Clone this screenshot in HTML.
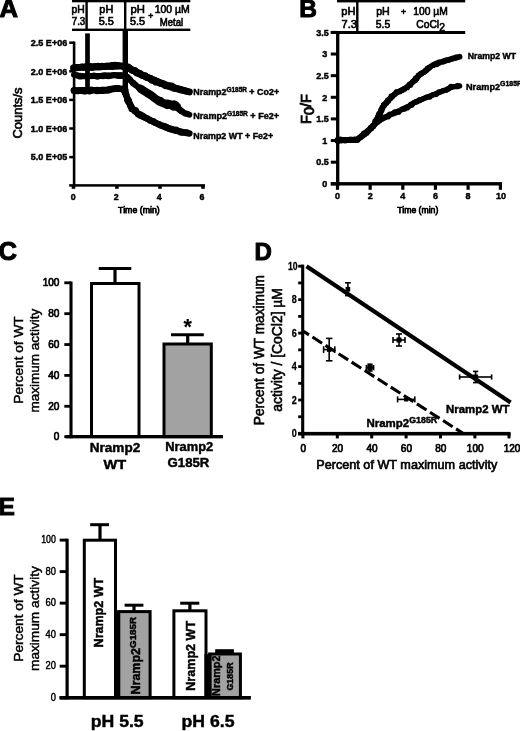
<!DOCTYPE html>
<html lang="en"><head><meta charset="utf-8"><title>Figure</title>
<style>
html,body{margin:0;padding:0;background:#fff;}
body{width:520px;height:731px;overflow:hidden;}
svg{display:block;}
text{font-family:"Liberation Sans",sans-serif;fill:#000;}
</style></head><body>
<svg width="520" height="731" viewBox="0 0 520 731">
<defs><filter id="soft" x="0" y="0" width="520" height="731" filterUnits="userSpaceOnUse"><feGaussianBlur stdDeviation="0.5"/></filter></defs>
<rect width="520" height="731" fill="#fff"/>
<g filter="url(#soft)">
<rect width="520" height="731" fill="#fff"/>

<g id="panelA">
<text x="-0.60" y="17.30" font-size="25.6" text-anchor="start" font-weight="bold" stroke="#000" stroke-width="1.0" >A</text>
<rect x="72.00" y="0.00" width="118.30" height="2.30" fill="#000" />
<rect x="72.00" y="28.60" width="118.30" height="2.40" fill="#000" />
<rect x="85.40" y="0.00" width="2.40" height="30.00" fill="#000" />
<rect x="124.00" y="0.00" width="2.40" height="30.00" fill="#000" />
<text x="78.20" y="13.20" font-size="10.2" text-anchor="middle" textLength="13.20" lengthAdjust="spacingAndGlyphs" stroke="#000" stroke-width="0.6" >pH</text>
<text x="78.50" y="25.10" font-size="10.2" text-anchor="middle" textLength="13.60" lengthAdjust="spacingAndGlyphs" stroke="#000" stroke-width="0.6" >7.3</text>
<text x="106.30" y="13.20" font-size="10.2" text-anchor="middle" textLength="13.90" lengthAdjust="spacingAndGlyphs" stroke="#000" stroke-width="0.6" >pH</text>
<text x="106.30" y="25.10" font-size="10.2" text-anchor="middle" textLength="15.20" lengthAdjust="spacingAndGlyphs" stroke="#000" stroke-width="0.6" >5.5</text>
<text x="137.70" y="13.20" font-size="10.2" text-anchor="middle" textLength="14.40" lengthAdjust="spacingAndGlyphs" stroke="#000" stroke-width="0.6" >pH</text>
<text x="137.60" y="25.10" font-size="10.2" text-anchor="middle" textLength="15.20" lengthAdjust="spacingAndGlyphs" stroke="#000" stroke-width="0.6" >5.5</text>
<text x="150.80" y="19.00" font-size="8.6" text-anchor="middle" stroke="#000" stroke-width="0.6" >+</text>
<text x="172.20" y="13.20" font-size="10.2" text-anchor="middle" textLength="35.00" lengthAdjust="spacingAndGlyphs" stroke="#000" stroke-width="0.6" >100 µM</text>
<text x="171.40" y="25.60" font-size="10.2" text-anchor="middle" textLength="23.40" lengthAdjust="spacingAndGlyphs" stroke="#000" stroke-width="0.6" >Metal</text>
<rect x="72.80" y="41.50" width="2.60" height="145.10" fill="#000" />
<rect x="69.20" y="184.15" width="135.80" height="2.50" fill="#000" />
<rect x="69.20" y="41.45" width="4.80" height="2.50" fill="#000" />
<text x="67.20" y="45.90" font-size="9" text-anchor="end" font-weight="bold" textLength="36.40" lengthAdjust="spacingAndGlyphs" stroke="#000" stroke-width="0.45" >2.5 E+06</text>
<rect x="69.20" y="70.05" width="4.80" height="2.50" fill="#000" />
<text x="67.20" y="74.50" font-size="9" text-anchor="end" font-weight="bold" textLength="36.40" lengthAdjust="spacingAndGlyphs" stroke="#000" stroke-width="0.45" >2.0 E+06</text>
<rect x="69.20" y="98.65" width="4.80" height="2.50" fill="#000" />
<text x="67.20" y="103.10" font-size="9" text-anchor="end" font-weight="bold" textLength="36.40" lengthAdjust="spacingAndGlyphs" stroke="#000" stroke-width="0.45" >1.5 E+06</text>
<rect x="69.20" y="127.25" width="4.80" height="2.50" fill="#000" />
<text x="67.20" y="131.70" font-size="9" text-anchor="end" font-weight="bold" textLength="36.40" lengthAdjust="spacingAndGlyphs" stroke="#000" stroke-width="0.45" >1.0 E+06</text>
<rect x="69.20" y="155.85" width="4.80" height="2.50" fill="#000" />
<text x="67.20" y="160.30" font-size="9" text-anchor="end" font-weight="bold" textLength="36.40" lengthAdjust="spacingAndGlyphs" stroke="#000" stroke-width="0.45" >5.0 E+05</text>
<rect x="71.70" y="185.00" width="3.60" height="3.80" fill="#000" />
<text x="73.10" y="199.60" font-size="8.8" text-anchor="middle" font-weight="bold" stroke="#000" stroke-width="0.45" >0</text>
<rect x="115.10" y="185.00" width="3.60" height="3.80" fill="#000" />
<text x="116.30" y="199.60" font-size="8.8" text-anchor="middle" font-weight="bold" stroke="#000" stroke-width="0.45" >2</text>
<rect x="158.20" y="185.00" width="3.60" height="3.80" fill="#000" />
<text x="159.20" y="199.60" font-size="8.8" text-anchor="middle" font-weight="bold" stroke="#000" stroke-width="0.45" >4</text>
<rect x="201.20" y="185.00" width="3.60" height="3.80" fill="#000" />
<text x="202.00" y="199.60" font-size="8.8" text-anchor="middle" font-weight="bold" stroke="#000" stroke-width="0.45" >6</text>
<text x="138.90" y="212.60" font-size="8.8" text-anchor="middle" textLength="41.60" lengthAdjust="spacingAndGlyphs" stroke="#000" stroke-width="0.75" >Time (min)</text>
<text x="21.80" y="113.00" font-size="13" text-anchor="middle" textLength="51.00" lengthAdjust="spacingAndGlyphs" stroke="#000" stroke-width="0.6" transform="rotate(-90 21.80 113.00)" >Counts/s</text>
<rect x="85.15" y="33.40" width="4.70" height="57.60" fill="#000" />
<rect x="122.60" y="30.00" width="5.40" height="62.00" fill="#000" />
<polyline points="74,68.2 77,67.6 82,67.3 87,66.9 93,67 100,66.7 107,66.3 115,65.8 120,65.9 124,66.2 127.7,67.4 132,69.8 137,72.4 143,75.4 150,78.7 158.5,82.3 166,85.2 173.8,87.7 181,89.9 189.4,91.9" fill="none" stroke="#000" stroke-width="6.9" stroke-linecap="round" stroke-linejoin="round"/>
<g><circle cx="73.8" cy="67.9" r="3.7"/><circle cx="76.6" cy="67.6" r="3.6"/><circle cx="79.1" cy="67.5" r="3.4"/><circle cx="81.9" cy="66.9" r="3.4"/><circle cx="84.4" cy="67.4" r="3.4"/><circle cx="86.8" cy="67.0" r="3.9"/><circle cx="90.1" cy="66.9" r="3.9"/><circle cx="92.6" cy="67.3" r="3.5"/><circle cx="95.0" cy="66.6" r="3.5"/><circle cx="98.0" cy="66.5" r="3.7"/><circle cx="100.1" cy="66.6" r="3.7"/><circle cx="101.9" cy="66.2" r="3.5"/><circle cx="104.8" cy="66.4" r="3.5"/><circle cx="107.1" cy="66.3" r="3.5"/><circle cx="109.9" cy="66.3" r="3.5"/><circle cx="112.4" cy="66.0" r="3.9"/><circle cx="115.2" cy="65.6" r="3.9"/><circle cx="117.2" cy="65.8" r="3.8"/><circle cx="119.7" cy="65.9" r="3.4"/><circle cx="124.2" cy="66.4" r="3.7"/><circle cx="128.0" cy="67.2" r="3.8"/><circle cx="129.9" cy="68.7" r="3.6"/><circle cx="132.3" cy="70.2" r="3.6"/><circle cx="134.6" cy="70.7" r="3.8"/><circle cx="137.1" cy="72.8" r="3.8"/><circle cx="139.8" cy="73.8" r="3.8"/><circle cx="142.6" cy="75.4" r="3.5"/><circle cx="145.0" cy="76.1" r="3.8"/><circle cx="147.3" cy="77.4" r="3.6"/><circle cx="150.3" cy="78.3" r="3.6"/><circle cx="152.2" cy="79.9" r="3.8"/><circle cx="154.6" cy="80.3" r="3.6"/><circle cx="156.2" cy="81.7" r="3.9"/><circle cx="158.2" cy="82.0" r="3.5"/><circle cx="160.8" cy="83.3" r="3.7"/><circle cx="163.3" cy="83.8" r="3.6"/><circle cx="165.9" cy="85.3" r="3.9"/><circle cx="168.8" cy="86.0" r="3.7"/><circle cx="171.4" cy="86.5" r="3.9"/><circle cx="174.1" cy="88.0" r="3.8"/><circle cx="176.1" cy="88.3" r="3.4"/><circle cx="178.7" cy="88.8" r="3.4"/><circle cx="180.7" cy="89.6" r="3.6"/><circle cx="183.4" cy="90.1" r="3.4"/><circle cx="186.2" cy="91.1" r="3.4"/></g>
<polyline points="74,74.6 78,75.6 83,76.2 87,76.3 94,76.1 100,76 108,75.6 115,75.2 120,75.3 124,75.8 127.7,77.4 131,80.8 135.4,85 139,87.8 143,90.3 147,92.8 150.8,95 154.5,98 158.5,100.8 162,102.6 166,103.6 169,103.2 171.5,104.6 173.8,105.6 176,104.9 178,107.8 181.5,111.3 185,113.2 189.4,114.8" fill="none" stroke="#000" stroke-width="5.9" stroke-linecap="round" stroke-linejoin="round"/>
<g><circle cx="74.3" cy="74.7" r="2.9"/><circle cx="77.8" cy="75.5" r="3.1"/><circle cx="80.2" cy="76.2" r="3.4"/><circle cx="83.0" cy="76.2" r="2.9"/><circle cx="86.6" cy="76.2" r="3.0"/><circle cx="89.6" cy="75.9" r="2.9"/><circle cx="92.1" cy="76.2" r="2.9"/><circle cx="94.0" cy="75.7" r="3.2"/><circle cx="97.4" cy="76.4" r="3.3"/><circle cx="99.8" cy="75.9" r="3.0"/><circle cx="102.9" cy="75.9" r="3.3"/><circle cx="105.2" cy="75.5" r="3.3"/><circle cx="108.4" cy="75.9" r="3.3"/><circle cx="110.6" cy="75.7" r="3.0"/><circle cx="112.7" cy="75.2" r="2.9"/><circle cx="114.6" cy="75.0" r="3.0"/><circle cx="117.7" cy="75.7" r="3.1"/><circle cx="120.4" cy="75.7" r="3.4"/><circle cx="123.9" cy="75.5" r="3.0"/><circle cx="127.4" cy="77.1" r="3.2"/><circle cx="129.7" cy="79.4" r="3.1"/><circle cx="131.1" cy="81.1" r="2.9"/><circle cx="133.3" cy="83.3" r="3.3"/><circle cx="135.6" cy="85.0" r="3.0"/><circle cx="139.3" cy="87.6" r="3.3"/><circle cx="141.4" cy="89.0" r="3.1"/><circle cx="143.4" cy="90.5" r="3.0"/><circle cx="144.7" cy="91.2" r="3.4"/><circle cx="147.3" cy="92.5" r="3.3"/><circle cx="151.2" cy="95.1" r="3.1"/><circle cx="152.7" cy="96.2" r="2.9"/><circle cx="154.9" cy="98.1" r="3.2"/><circle cx="156.9" cy="99.3" r="3.4"/><circle cx="158.8" cy="100.5" r="3.0"/><circle cx="161.8" cy="102.4" r="3.2"/><circle cx="165.8" cy="103.5" r="2.9"/><circle cx="169.4" cy="103.1" r="3.1"/><circle cx="171.6" cy="105.0" r="3.1"/><circle cx="174.2" cy="105.6" r="3.2"/><circle cx="176.0" cy="104.5" r="3.1"/><circle cx="177.7" cy="107.4" r="3.3"/><circle cx="179.5" cy="109.5" r="3.3"/><circle cx="181.6" cy="111.1" r="3.2"/><circle cx="185.0" cy="113.5" r="2.9"/><circle cx="187.3" cy="113.8" r="3.0"/></g>
<polyline points="74,90.4 80,90.6 87,90.4 94,90.3 100,90.2 108,89.7 113,89 118,88.6 122,89 124.6,90.5 126,95 127.7,99.2 129.8,104 132.3,108.3 135,111.2 138.5,113.8 143,116.6 147.7,118.9 153,121.6 158.5,124.2 166,127.3 173.8,130 181,131.9 189.4,133.5" fill="none" stroke="#000" stroke-width="6.5" stroke-linecap="round" stroke-linejoin="round"/>
<g><circle cx="74.2" cy="90.4" r="3.5"/><circle cx="77.2" cy="90.9" r="3.4"/><circle cx="80.1" cy="90.6" r="3.5"/><circle cx="82.5" cy="90.5" r="3.5"/><circle cx="84.6" cy="90.9" r="3.6"/><circle cx="87.3" cy="90.8" r="3.3"/><circle cx="89.4" cy="90.8" r="3.7"/><circle cx="91.3" cy="90.0" r="3.4"/><circle cx="93.6" cy="90.1" r="3.2"/><circle cx="97.2" cy="90.5" r="3.7"/><circle cx="99.7" cy="90.4" r="3.5"/><circle cx="102.3" cy="90.4" r="3.7"/><circle cx="105.1" cy="90.3" r="3.4"/><circle cx="108.0" cy="90.1" r="3.6"/><circle cx="110.2" cy="89.3" r="3.5"/><circle cx="112.9" cy="88.7" r="3.3"/><circle cx="115.7" cy="88.4" r="3.5"/><circle cx="117.9" cy="88.2" r="3.3"/><circle cx="122.1" cy="89.0" r="3.2"/><circle cx="125.0" cy="90.8" r="3.7"/><circle cx="124.9" cy="92.5" r="3.2"/><circle cx="126.3" cy="94.8" r="3.2"/><circle cx="127.6" cy="99.6" r="3.6"/><circle cx="128.5" cy="101.3" r="3.7"/><circle cx="129.9" cy="104.2" r="3.2"/><circle cx="130.7" cy="106.3" r="3.4"/><circle cx="131.9" cy="108.7" r="3.5"/><circle cx="135.3" cy="110.8" r="3.7"/><circle cx="138.1" cy="114.1" r="3.4"/><circle cx="140.6" cy="115.2" r="3.7"/><circle cx="142.8" cy="116.3" r="3.5"/><circle cx="145.1" cy="117.4" r="3.2"/><circle cx="147.3" cy="118.6" r="3.3"/><circle cx="150.2" cy="120.5" r="3.3"/><circle cx="153.0" cy="121.3" r="3.4"/><circle cx="155.3" cy="122.7" r="3.2"/><circle cx="158.7" cy="124.2" r="3.3"/><circle cx="161.0" cy="125.6" r="3.2"/><circle cx="163.8" cy="126.2" r="3.4"/><circle cx="166.3" cy="127.2" r="3.5"/><circle cx="168.8" cy="128.6" r="3.4"/><circle cx="171.5" cy="129.3" r="3.5"/><circle cx="173.7" cy="129.9" r="3.2"/><circle cx="175.9" cy="130.2" r="3.6"/><circle cx="178.4" cy="131.0" r="3.2"/><circle cx="181.3" cy="132.2" r="3.6"/><circle cx="183.6" cy="132.2" r="3.3"/><circle cx="186.6" cy="132.7" r="3.4"/></g>
<polyline points="141,89 147,92.9 150.8,95.1 154.5,98 158.5,100.8 162,102.7 166,104.2 170,104.6 174,105.4 176.5,106.4" fill="none" stroke="#000" stroke-width="8.2" stroke-linecap="round" stroke-linejoin="round"/>
<circle cx="167.5" cy="104.3" r="4.9"/><circle cx="174" cy="105.5" r="5.3"/><circle cx="160" cy="101.2" r="4.5"/>
<text x="193.3" y="95.3" font-size="9" font-weight="bold" stroke="#000" stroke-width="0.45" text-anchor="start" textLength="85.8" lengthAdjust="spacingAndGlyphs">Nramp2<tspan font-size="6.5" dy="-3.3">G185R</tspan><tspan dy="3.3"> + Co2+</tspan></text>
<text x="193.3" y="118.9" font-size="9" font-weight="bold" stroke="#000" stroke-width="0.45" text-anchor="start" textLength="85.8" lengthAdjust="spacingAndGlyphs">Nramp2<tspan font-size="6.5" dy="-3.3">G185R</tspan><tspan dy="3.3"> + Fe2+</tspan></text>
<text x="193.30" y="138.50" font-size="9" text-anchor="start" font-weight="bold" textLength="79.80" lengthAdjust="spacingAndGlyphs" stroke="#000" stroke-width="0.45" >Nramp2 WT + Fe2+</text>
</g>
<g id="panelB">
<text x="299.30" y="17.20" font-size="24.5" text-anchor="start" font-weight="bold" stroke="#000" stroke-width="1.0" >B</text>
<rect x="337.00" y="0.00" width="128.20" height="2.40" fill="#000" />
<rect x="330.80" y="31.00" width="134.40" height="3.00" fill="#000" />
<rect x="356.10" y="0.00" width="2.40" height="32.00" fill="#000" />
<text x="348.40" y="15.40" font-size="10.2" text-anchor="middle" textLength="14.20" lengthAdjust="spacingAndGlyphs" stroke="#000" stroke-width="0.6" >pH</text>
<text x="349.20" y="28.00" font-size="10.2" text-anchor="middle" textLength="15.40" lengthAdjust="spacingAndGlyphs" stroke="#000" stroke-width="0.6" >7.3</text>
<text x="383.00" y="15.40" font-size="10.2" text-anchor="middle" textLength="13.60" lengthAdjust="spacingAndGlyphs" stroke="#000" stroke-width="0.6" >pH</text>
<text x="383.00" y="28.00" font-size="10.2" text-anchor="middle" textLength="14.40" lengthAdjust="spacingAndGlyphs" stroke="#000" stroke-width="0.6" >5.5</text>
<text x="403.50" y="15.30" font-size="8.6" text-anchor="middle" stroke="#000" stroke-width="0.6" >+</text>
<text x="430.50" y="15.40" font-size="10.2" text-anchor="middle" textLength="34.40" lengthAdjust="spacingAndGlyphs" stroke="#000" stroke-width="0.6" >100 µM</text>
<text x="430.6" y="28" font-size="10.2" text-anchor="middle" textLength="28.6" lengthAdjust="spacingAndGlyphs" stroke="#000" stroke-width="0.6">CoCl<tspan dy="2.6">2</tspan></text>
<rect x="336.05" y="31.00" width="3.30" height="154.60" fill="#000" />
<rect x="330.80" y="182.10" width="171.20" height="3.40" fill="#000" />
<rect x="330.80" y="30.90" width="6.20" height="3.00" fill="#000" />
<text x="328.70" y="35.65" font-size="9" text-anchor="end" font-weight="bold" stroke="#000" stroke-width="0.45" >3.5</text>
<rect x="330.80" y="52.53" width="6.20" height="3.00" fill="#000" />
<text x="327.20" y="57.28" font-size="9" text-anchor="end" font-weight="bold" stroke="#000" stroke-width="0.45" >3</text>
<rect x="330.80" y="74.16" width="6.20" height="3.00" fill="#000" />
<text x="328.70" y="78.91" font-size="9" text-anchor="end" font-weight="bold" stroke="#000" stroke-width="0.45" >2.5</text>
<rect x="330.80" y="95.79" width="6.20" height="3.00" fill="#000" />
<text x="327.20" y="100.54" font-size="9" text-anchor="end" font-weight="bold" stroke="#000" stroke-width="0.45" >2</text>
<rect x="330.80" y="117.42" width="6.20" height="3.00" fill="#000" />
<text x="328.70" y="122.17" font-size="9" text-anchor="end" font-weight="bold" stroke="#000" stroke-width="0.45" >1.5</text>
<rect x="330.80" y="139.05" width="6.20" height="3.00" fill="#000" />
<text x="327.20" y="143.80" font-size="9" text-anchor="end" font-weight="bold" stroke="#000" stroke-width="0.45" >1</text>
<rect x="330.80" y="160.68" width="6.20" height="3.00" fill="#000" />
<text x="328.70" y="165.43" font-size="9" text-anchor="end" font-weight="bold" stroke="#000" stroke-width="0.45" >0.5</text>
<rect x="330.80" y="182.31" width="6.20" height="3.00" fill="#000" />
<text x="327.20" y="187.06" font-size="9" text-anchor="end" font-weight="bold" stroke="#000" stroke-width="0.45" >0</text>
<rect x="335.90" y="185.00" width="3.20" height="4.80" fill="#000" />
<text x="337.50" y="198.60" font-size="9" text-anchor="middle" font-weight="bold" stroke="#000" stroke-width="0.45" >0</text>
<rect x="368.55" y="185.00" width="3.20" height="4.80" fill="#000" />
<text x="370.15" y="198.60" font-size="9" text-anchor="middle" font-weight="bold" stroke="#000" stroke-width="0.45" >2</text>
<rect x="401.20" y="185.00" width="3.20" height="4.80" fill="#000" />
<text x="402.80" y="198.60" font-size="9" text-anchor="middle" font-weight="bold" stroke="#000" stroke-width="0.45" >4</text>
<rect x="433.85" y="185.00" width="3.20" height="4.80" fill="#000" />
<text x="435.45" y="198.60" font-size="9" text-anchor="middle" font-weight="bold" stroke="#000" stroke-width="0.45" >6</text>
<rect x="466.50" y="185.00" width="3.20" height="4.80" fill="#000" />
<text x="468.10" y="198.60" font-size="9" text-anchor="middle" font-weight="bold" stroke="#000" stroke-width="0.45" >8</text>
<rect x="498.80" y="185.00" width="3.20" height="4.80" fill="#000" />
<text x="501.00" y="198.60" font-size="9" text-anchor="middle" font-weight="bold" stroke="#000" stroke-width="0.45" >10</text>
<text x="417.80" y="212.60" font-size="8.8" text-anchor="middle" textLength="41.00" lengthAdjust="spacingAndGlyphs" stroke="#000" stroke-width="0.75" >Time (min)</text>
<text x="311" y="109" font-size="14" text-anchor="middle" transform="rotate(-90 311 109)" textLength="29.8" lengthAdjust="spacingAndGlyphs" stroke="#000" stroke-width="0.8">F<tspan dy="2.6">0</tspan><tspan dy="-2.6">/F</tspan></text>
<polyline points="338,140 345,140.2 352,140 357,139.6 360,137.6 364,134.2 368,131 371,128 374.2,124.4 377,119.5 380,113 383.8,105.4 388,100.6 392,96.6 395,94 397.3,92.3 399.5,91.2 402,90.2 404.5,88.6 406.9,87 410,84.4 413,81.8 416.5,78.6 419,75.2 421,73.6 424,72 426.2,70.5 429.6,67.3 433,65 436,63.8 439.2,62.7 443,61.4 446,60.6 448.8,59.8 452,58.8 456,57.7 459.6,56.7" fill="none" stroke="#000" stroke-width="5.7" stroke-linecap="round" stroke-linejoin="round"/>
<g><circle cx="337.8" cy="140.4" r="3.3"/><circle cx="340.4" cy="139.8" r="3.3"/><circle cx="342.5" cy="140.0" r="2.8"/><circle cx="344.9" cy="140.2" r="3.1"/><circle cx="347.1" cy="140.1" r="2.8"/><circle cx="349.5" cy="139.7" r="3.0"/><circle cx="351.6" cy="139.6" r="2.9"/><circle cx="354.3" cy="139.9" r="3.1"/><circle cx="357.2" cy="139.7" r="3.2"/><circle cx="360.3" cy="137.5" r="2.9"/><circle cx="362.4" cy="135.6" r="3.2"/><circle cx="364.1" cy="133.8" r="3.3"/><circle cx="366.4" cy="132.7" r="3.2"/><circle cx="368.3" cy="130.7" r="3.1"/><circle cx="371.0" cy="128.3" r="3.2"/><circle cx="372.9" cy="126.3" r="3.3"/><circle cx="374.4" cy="124.6" r="2.9"/><circle cx="375.2" cy="121.6" r="3.0"/><circle cx="376.6" cy="119.8" r="3.1"/><circle cx="378.1" cy="117.4" r="3.2"/><circle cx="379.0" cy="114.7" r="3.2"/><circle cx="380.2" cy="113.0" r="3.1"/><circle cx="381.4" cy="110.1" r="3.2"/><circle cx="382.3" cy="107.6" r="2.9"/><circle cx="384.0" cy="105.1" r="3.2"/><circle cx="386.3" cy="103.0" r="3.0"/><circle cx="388.0" cy="100.8" r="3.2"/><circle cx="390.1" cy="98.7" r="2.8"/><circle cx="391.7" cy="96.4" r="3.2"/><circle cx="394.8" cy="94.1" r="2.8"/><circle cx="396.9" cy="92.1" r="3.2"/><circle cx="399.7" cy="91.4" r="2.9"/><circle cx="402.0" cy="90.2" r="3.0"/><circle cx="404.2" cy="89.0" r="2.9"/><circle cx="407.3" cy="87.4" r="2.8"/><circle cx="410.0" cy="84.7" r="3.3"/><circle cx="413.0" cy="81.6" r="2.9"/><circle cx="415.2" cy="79.9" r="3.1"/><circle cx="416.2" cy="78.6" r="3.3"/><circle cx="418.7" cy="75.5" r="3.1"/><circle cx="421.3" cy="73.8" r="2.9"/><circle cx="424.4" cy="72.0" r="2.8"/><circle cx="425.8" cy="70.5" r="3.0"/><circle cx="427.7" cy="68.6" r="3.0"/><circle cx="429.4" cy="67.6" r="2.8"/><circle cx="433.2" cy="65.3" r="2.8"/><circle cx="436.4" cy="64.0" r="3.3"/><circle cx="439.0" cy="62.6" r="3.0"/><circle cx="443.4" cy="61.5" r="3.0"/><circle cx="445.9" cy="60.4" r="2.8"/><circle cx="448.4" cy="60.1" r="2.9"/><circle cx="452.4" cy="58.6" r="2.9"/><circle cx="456.0" cy="57.4" r="3.0"/></g>
<polyline points="338,140 345,140.2 352,140 357,139.6 360,137.6 364,134.2 368,131 371,128 374.2,124.8 378,121.6 382,119 387.7,116 393,113.6 398,111.4 402,109.6 406.9,107.3 411,105 414,102.8 416.5,101.6 420,100.4 423,98.8 426.2,97.6 429.6,96.3 433,94.8 436,93.8 439.2,92.5 443,90.8 446,89.8 448.8,88.7 451,87.2 454,86.6 457,86.4 459.6,85.9" fill="none" stroke="#000" stroke-width="5.4" stroke-linecap="round" stroke-linejoin="round"/>
<g><circle cx="338.4" cy="140.3" r="3.1"/><circle cx="340.5" cy="140.4" r="3.2"/><circle cx="342.7" cy="140.3" r="2.6"/><circle cx="345.2" cy="140.2" r="3.1"/><circle cx="347.5" cy="139.9" r="2.6"/><circle cx="350.1" cy="139.7" r="2.9"/><circle cx="351.9" cy="139.8" r="3.0"/><circle cx="354.9" cy="139.6" r="3.0"/><circle cx="356.8" cy="139.7" r="2.8"/><circle cx="359.7" cy="137.3" r="2.7"/><circle cx="362.4" cy="135.9" r="2.7"/><circle cx="364.4" cy="134.6" r="2.9"/><circle cx="365.7" cy="132.3" r="2.7"/><circle cx="367.9" cy="130.6" r="2.7"/><circle cx="370.8" cy="128.1" r="3.1"/><circle cx="374.4" cy="124.7" r="2.8"/><circle cx="376.1" cy="123.1" r="2.8"/><circle cx="377.6" cy="121.4" r="3.2"/><circle cx="379.7" cy="120.3" r="3.0"/><circle cx="382.3" cy="118.7" r="2.8"/><circle cx="384.6" cy="117.4" r="2.9"/><circle cx="388.1" cy="116.3" r="3.1"/><circle cx="389.9" cy="114.4" r="3.0"/><circle cx="393.4" cy="113.6" r="3.0"/><circle cx="395.1" cy="112.4" r="3.2"/><circle cx="398.3" cy="111.7" r="3.2"/><circle cx="401.8" cy="109.2" r="2.7"/><circle cx="404.5" cy="108.6" r="3.2"/><circle cx="407.1" cy="107.4" r="3.1"/><circle cx="408.9" cy="106.2" r="2.6"/><circle cx="411.3" cy="104.8" r="3.2"/><circle cx="414.1" cy="102.6" r="2.7"/><circle cx="416.3" cy="101.7" r="3.0"/><circle cx="419.7" cy="100.0" r="2.9"/><circle cx="423.1" cy="98.7" r="2.7"/><circle cx="426.3" cy="97.2" r="2.8"/><circle cx="429.6" cy="96.7" r="3.0"/><circle cx="433.3" cy="94.8" r="2.7"/><circle cx="435.8" cy="94.2" r="3.0"/><circle cx="439.0" cy="92.1" r="2.9"/><circle cx="443.2" cy="90.7" r="2.8"/><circle cx="446.2" cy="90.2" r="2.7"/><circle cx="448.4" cy="88.6" r="2.9"/><circle cx="451.2" cy="86.9" r="3.1"/><circle cx="454.2" cy="86.6" r="2.7"/><circle cx="457.4" cy="86.2" r="3.1"/></g>
<text x="467.80" y="58.60" font-size="9" text-anchor="start" font-weight="bold" textLength="48.20" lengthAdjust="spacingAndGlyphs" stroke="#000" stroke-width="0.45" >Nramp2 WT</text>
<text x="466" y="89.6" font-size="9" font-weight="bold" stroke="#000" stroke-width="0.45" text-anchor="start" textLength="56" lengthAdjust="spacingAndGlyphs">Nramp2<tspan font-size="6.8" dy="-3.6">G185R</tspan></text>
</g>
<g id="panelC">
<text x="-1.40" y="260.00" font-size="25.6" text-anchor="start" font-weight="bold" stroke="#000" stroke-width="1.0" >C</text>
<rect x="69.45" y="281.50" width="3.10" height="156.70" fill="#000" />
<rect x="65.80" y="435.00" width="157.00" height="3.20" fill="#000" />
<rect x="64.30" y="281.40" width="6.70" height="2.80" fill="#000" />
<text x="59.40" y="286.25" font-size="10" text-anchor="end" stroke="#000" stroke-width="0.7" >100</text>
<rect x="64.30" y="312.27" width="6.70" height="2.80" fill="#000" />
<text x="59.40" y="317.12" font-size="10" text-anchor="end" stroke="#000" stroke-width="0.7" >80</text>
<rect x="64.30" y="343.14" width="6.70" height="2.80" fill="#000" />
<text x="59.40" y="347.99" font-size="10" text-anchor="end" stroke="#000" stroke-width="0.7" >60</text>
<rect x="64.30" y="374.01" width="6.70" height="2.80" fill="#000" />
<text x="59.40" y="378.86" font-size="10" text-anchor="end" stroke="#000" stroke-width="0.7" >40</text>
<rect x="64.30" y="404.88" width="6.70" height="2.80" fill="#000" />
<text x="59.40" y="409.73" font-size="10" text-anchor="end" stroke="#000" stroke-width="0.7" >20</text>
<rect x="64.30" y="435.30" width="6.70" height="2.80" fill="#000" />
<text x="59.40" y="440.15" font-size="10" text-anchor="end" stroke="#000" stroke-width="0.7" >0</text>
<rect x="113.40" y="268.50" width="3.20" height="15.00" fill="#000" />
<rect x="98.75" y="267.00" width="32.50" height="3.00" fill="#000" />
<rect x="91.50" y="283.50" width="47.50" height="153.10" fill="#fff" stroke="#000" stroke-width="3.0"/>
<rect x="186.10" y="334.75" width="3.20" height="9.25" fill="#000" />
<rect x="171.00" y="333.25" width="32.80" height="3.00" fill="#000" />
<rect x="164.00" y="344.00" width="47.30" height="92.60" fill="#a2a2a2" stroke="#000" stroke-width="3.0"/>
<rect x="65.80" y="435.00" width="157.00" height="3.20" fill="#000" />
<text x="187.80" y="333.60" font-size="21.5" text-anchor="middle" font-weight="bold" stroke="#000" stroke-width="0.15" >*</text>
<text x="115.00" y="452.40" font-size="13" text-anchor="middle" font-weight="bold" textLength="50.50" lengthAdjust="spacingAndGlyphs" stroke="#000" stroke-width="0.45" >Nramp2</text>
<text x="114.80" y="468.70" font-size="13" text-anchor="middle" font-weight="bold" textLength="22.60" lengthAdjust="spacingAndGlyphs" stroke="#000" stroke-width="0.45" >WT</text>
<text x="189.20" y="451.00" font-size="13" text-anchor="middle" font-weight="bold" textLength="48.00" lengthAdjust="spacingAndGlyphs" stroke="#000" stroke-width="0.45" >Nramp2</text>
<text x="188.50" y="467.00" font-size="13" text-anchor="middle" font-weight="bold" textLength="41.80" lengthAdjust="spacingAndGlyphs" stroke="#000" stroke-width="0.45" >G185R</text>
<text x="23.00" y="360.00" font-size="13.5" text-anchor="middle" textLength="87.40" lengthAdjust="spacingAndGlyphs" stroke="#000" stroke-width="0.45" transform="rotate(-90 23.00 360.00)" >Percent of WT</text>
<text x="39.40" y="360.70" font-size="13.5" text-anchor="middle" textLength="103.80" lengthAdjust="spacingAndGlyphs" stroke="#000" stroke-width="0.45" transform="rotate(-90 39.40 360.70)" >maximum activity</text>
</g>
<g id="panelD">
<text x="254.60" y="260.00" font-size="24" text-anchor="start" font-weight="bold" stroke="#000" stroke-width="1.0" >D</text>
<rect x="301.15" y="264.60" width="3.10" height="170.90" fill="#000" />
<rect x="298.00" y="431.90" width="212.60" height="3.60" fill="#000" />
<rect x="298.20" y="264.80" width="4.80" height="2.80" fill="#000" />
<rect x="298.20" y="281.53" width="4.80" height="2.80" fill="#000" />
<rect x="298.20" y="298.26" width="4.80" height="2.80" fill="#000" />
<rect x="298.20" y="314.99" width="4.80" height="2.80" fill="#000" />
<rect x="298.20" y="331.72" width="4.80" height="2.80" fill="#000" />
<rect x="298.20" y="348.45" width="4.80" height="2.80" fill="#000" />
<rect x="298.20" y="365.18" width="4.80" height="2.80" fill="#000" />
<rect x="298.20" y="381.91" width="4.80" height="2.80" fill="#000" />
<rect x="298.20" y="398.64" width="4.80" height="2.80" fill="#000" />
<rect x="298.20" y="415.37" width="4.80" height="2.80" fill="#000" />
<rect x="298.20" y="432.10" width="4.80" height="2.80" fill="#000" />
<text x="297.50" y="269.80" font-size="10.2" text-anchor="end" font-weight="bold" textLength="9.60" lengthAdjust="spacingAndGlyphs" stroke="#000" stroke-width="0.3" >10</text>
<text x="296.70" y="303.26" font-size="10.2" text-anchor="end" font-weight="bold" textLength="5.00" lengthAdjust="spacingAndGlyphs" stroke="#000" stroke-width="0.3" >8</text>
<text x="296.70" y="336.72" font-size="10.2" text-anchor="end" font-weight="bold" textLength="5.00" lengthAdjust="spacingAndGlyphs" stroke="#000" stroke-width="0.3" >6</text>
<text x="296.70" y="370.18" font-size="10.2" text-anchor="end" font-weight="bold" textLength="5.00" lengthAdjust="spacingAndGlyphs" stroke="#000" stroke-width="0.3" >4</text>
<text x="296.70" y="403.64" font-size="10.2" text-anchor="end" font-weight="bold" textLength="5.00" lengthAdjust="spacingAndGlyphs" stroke="#000" stroke-width="0.3" >2</text>
<text x="296.70" y="437.10" font-size="10.2" text-anchor="end" font-weight="bold" textLength="5.00" lengthAdjust="spacingAndGlyphs" stroke="#000" stroke-width="0.3" >0</text>
<rect x="301.40" y="433.00" width="3.00" height="5.40" fill="#000" />
<text x="303.20" y="452.20" font-size="10" text-anchor="middle" stroke="#000" stroke-width="0.7" >0</text>
<rect x="335.80" y="433.00" width="3.00" height="5.40" fill="#000" />
<text x="337.60" y="452.20" font-size="10" text-anchor="middle" stroke="#000" stroke-width="0.7" >20</text>
<rect x="370.20" y="433.00" width="3.00" height="5.40" fill="#000" />
<text x="372.00" y="452.20" font-size="10" text-anchor="middle" stroke="#000" stroke-width="0.7" >40</text>
<rect x="404.60" y="433.00" width="3.00" height="5.40" fill="#000" />
<text x="406.40" y="452.20" font-size="10" text-anchor="middle" stroke="#000" stroke-width="0.7" >60</text>
<rect x="439.00" y="433.00" width="3.00" height="5.40" fill="#000" />
<text x="440.80" y="452.20" font-size="10" text-anchor="middle" stroke="#000" stroke-width="0.7" >80</text>
<rect x="473.40" y="433.00" width="3.00" height="5.40" fill="#000" />
<text x="475.20" y="452.20" font-size="10" text-anchor="middle" stroke="#000" stroke-width="0.7" >100</text>
<rect x="507.50" y="433.00" width="3.00" height="5.40" fill="#000" />
<text x="520.40" y="452.20" font-size="10" text-anchor="end" stroke="#000" stroke-width="0.7" >120</text>
<line x1="306.5" y1="266.2" x2="510.6" y2="402.6" stroke="#000" stroke-width="4.2"/>
<line x1="303.6" y1="331.4" x2="463.4" y2="433.6" stroke="#000" stroke-width="3.1" stroke-dasharray="11.4 4.1" stroke-dashoffset="5"/>
<rect x="323.60" y="348.80" width="11.20" height="1.60" fill="#000" />
<rect x="322.80" y="346.30" width="1.60" height="6.60" fill="#000" />
<rect x="334.00" y="346.30" width="1.60" height="6.60" fill="#000" />
<rect x="328.40" y="338.40" width="1.60" height="22.40" fill="#000" />
<rect x="325.90" y="337.60" width="6.60" height="1.60" fill="#000" />
<rect x="325.90" y="360.00" width="6.60" height="1.60" fill="#000" />
<rect x="326.90" y="347.30" width="4.60" height="4.60" fill="#000" />
<rect x="366.40" y="366.80" width="7.20" height="1.60" fill="#000" />
<rect x="365.60" y="365.00" width="1.60" height="5.20" fill="#000" />
<rect x="372.80" y="365.00" width="1.60" height="5.20" fill="#000" />
<rect x="369.20" y="364.20" width="1.60" height="6.80" fill="#000" />
<rect x="367.40" y="363.40" width="5.20" height="1.60" fill="#000" />
<rect x="367.40" y="370.20" width="5.20" height="1.60" fill="#000" />
<rect x="367.30" y="364.90" width="5.40" height="5.40" fill="#000" />
<rect x="347.10" y="282.80" width="1.60" height="12.80" fill="#000" />
<rect x="345.00" y="282.00" width="5.80" height="1.60" fill="#000" />
<rect x="345.00" y="294.80" width="5.80" height="1.60" fill="#000" />
<rect x="345.60" y="286.90" width="4.60" height="4.60" fill="#000" />
<rect x="393.00" y="339.20" width="12.00" height="1.60" fill="#000" />
<rect x="392.20" y="337.00" width="1.60" height="6.00" fill="#000" />
<rect x="404.20" y="337.00" width="1.60" height="6.00" fill="#000" />
<rect x="398.20" y="334.00" width="1.60" height="12.00" fill="#000" />
<rect x="396.00" y="333.20" width="6.00" height="1.60" fill="#000" />
<rect x="396.00" y="345.20" width="6.00" height="1.60" fill="#000" />
<rect x="396.50" y="337.50" width="5.00" height="5.00" fill="#000" />
<rect x="459.60" y="376.20" width="32.00" height="1.60" fill="#000" />
<rect x="458.80" y="374.40" width="1.60" height="5.20" fill="#000" />
<rect x="490.80" y="374.40" width="1.60" height="5.20" fill="#000" />
<rect x="474.80" y="371.40" width="1.60" height="11.20" fill="#000" />
<rect x="473.00" y="370.60" width="5.20" height="1.60" fill="#000" />
<rect x="473.00" y="381.80" width="5.20" height="1.60" fill="#000" />
<rect x="473.10" y="374.50" width="5.00" height="5.00" fill="#000" />
<rect x="397.60" y="398.60" width="17.20" height="1.60" fill="#000" />
<rect x="396.80" y="396.40" width="1.60" height="6.00" fill="#000" />
<rect x="414.00" y="396.40" width="1.60" height="6.00" fill="#000" />
<rect x="404.10" y="397.30" width="4.20" height="4.20" fill="#000" />
<text x="446.00" y="413.30" font-size="11.2" text-anchor="start" font-weight="bold" textLength="63.40" lengthAdjust="spacingAndGlyphs" stroke="#000" stroke-width="0.45" >Nramp2 WT</text>
<text x="366.4" y="426.8" font-size="11.2" font-weight="bold" stroke="#000" stroke-width="0.45" text-anchor="start" textLength="70.8" lengthAdjust="spacingAndGlyphs">Nramp2<tspan font-size="8.6" dy="-3.6">G185R</tspan></text>
<text x="406.80" y="468.90" font-size="12.5" text-anchor="middle" textLength="181.00" lengthAdjust="spacingAndGlyphs" stroke="#000" stroke-width="0.65" >Percent of WT maximum activity</text>
<text x="264.50" y="350.10" font-size="13.8" text-anchor="middle" textLength="150.20" lengthAdjust="spacingAndGlyphs" stroke="#000" stroke-width="0.6" transform="rotate(-90 264.50 350.10)" >Percent of WT maximum</text>
<text x="281.60" y="349.90" font-size="14.4" text-anchor="middle" textLength="123.60" lengthAdjust="spacingAndGlyphs" stroke="#000" stroke-width="0.6" transform="rotate(-90 281.60 349.90)" >activity / [CoCl2] µM</text>
</g>
<g id="panelE">
<text x="-1.40" y="515.20" font-size="24.5" text-anchor="start" font-weight="bold" stroke="#000" stroke-width="1.0" >E</text>
<rect x="65.50" y="538.70" width="3.20" height="160.60" fill="#000" />
<rect x="59.70" y="696.00" width="191.00" height="3.40" fill="#000" />
<rect x="59.70" y="538.65" width="7.40" height="2.90" fill="#000" />
<text x="55.90" y="543.00" font-size="10.4" text-anchor="end" textLength="14.70" lengthAdjust="spacingAndGlyphs" stroke="#000" stroke-width="0.45" >100</text>
<rect x="59.70" y="570.17" width="7.40" height="2.90" fill="#000" />
<text x="55.90" y="574.52" font-size="10.4" text-anchor="end" textLength="10.40" lengthAdjust="spacingAndGlyphs" stroke="#000" stroke-width="0.45" >80</text>
<rect x="59.70" y="601.69" width="7.40" height="2.90" fill="#000" />
<text x="55.90" y="606.04" font-size="10.4" text-anchor="end" textLength="10.40" lengthAdjust="spacingAndGlyphs" stroke="#000" stroke-width="0.45" >60</text>
<rect x="59.70" y="633.21" width="7.40" height="2.90" fill="#000" />
<text x="55.90" y="637.56" font-size="10.4" text-anchor="end" textLength="10.40" lengthAdjust="spacingAndGlyphs" stroke="#000" stroke-width="0.45" >40</text>
<rect x="59.70" y="664.73" width="7.40" height="2.90" fill="#000" />
<text x="55.90" y="669.08" font-size="10.4" text-anchor="end" textLength="10.40" lengthAdjust="spacingAndGlyphs" stroke="#000" stroke-width="0.45" >20</text>
<rect x="59.70" y="696.25" width="7.40" height="2.90" fill="#000" />
<text x="55.90" y="700.60" font-size="10.4" text-anchor="end" textLength="5.20" lengthAdjust="spacingAndGlyphs" stroke="#000" stroke-width="0.45" >0</text>
<rect x="98.40" y="524.70" width="3.20" height="15.50" fill="#000" />
<rect x="90.20" y="523.20" width="18.80" height="3.00" fill="#000" />
<rect x="84.30" y="540.20" width="31.20" height="157.50" fill="#fff" stroke="#000" stroke-width="3.0"/>
<rect x="132.40" y="605.20" width="3.20" height="6.40" fill="#000" />
<rect x="124.60" y="603.70" width="18.80" height="3.00" fill="#000" />
<rect x="118.60" y="611.60" width="31.50" height="86.10" fill="#a2a2a2" stroke="#000" stroke-width="3.0"/>
<rect x="114.00" y="611.60" width="6.20" height="86.10" fill="#000" />
<rect x="188.30" y="603.20" width="3.20" height="7.60" fill="#000" />
<rect x="180.20" y="601.70" width="19.10" height="3.00" fill="#000" />
<rect x="173.90" y="610.80" width="32.10" height="86.90" fill="#fff" stroke="#000" stroke-width="3.0"/>
<rect x="209.60" y="654.00" width="30.80" height="43.70" fill="#a2a2a2" stroke="#000" stroke-width="3.0"/>
<rect x="204.50" y="654.00" width="7.10" height="43.70" fill="#000" />
<rect x="215.20" y="649.20" width="18.70" height="4.30" fill="#000" />
<rect x="59.70" y="696.00" width="191.00" height="3.40" fill="#000" />
<text x="103.2" y="612.6" font-size="12" font-weight="bold" stroke="#000" stroke-width="0.45" text-anchor="middle" textLength="69.6" lengthAdjust="spacingAndGlyphs" transform="rotate(-90 103.2 612.6)">Nramp2 WT</text>
<text x="140" y="694.4" font-size="12" font-weight="bold" stroke="#000" stroke-width="0.45" text-anchor="start" textLength="77.6" lengthAdjust="spacingAndGlyphs" transform="rotate(-90 140 694.4)">Nramp2<tspan font-size="9.5" dy="-3.8">G185R</tspan></text>
<text x="194.7" y="655.8" font-size="12" font-weight="bold" stroke="#000" stroke-width="0.45" text-anchor="middle" textLength="69.8" lengthAdjust="spacingAndGlyphs" transform="rotate(-90 194.7 655.8)">Nramp2 WT</text>
<text x="220.3" y="675.7" font-size="10.6" font-weight="bold" stroke="#000" stroke-width="0.45" text-anchor="middle" textLength="40.4" lengthAdjust="spacingAndGlyphs" transform="rotate(-90 220.3 675.7)">Nramp2</text>
<text x="233.3" y="676.5" font-size="8.8" font-weight="bold" stroke="#000" stroke-width="0.45" text-anchor="middle" textLength="28.2" lengthAdjust="spacingAndGlyphs" transform="rotate(-90 233.3 676.5)">G185R</text>
<text x="117.20" y="726.60" font-size="17.2" text-anchor="middle" font-weight="bold" textLength="53.00" lengthAdjust="spacingAndGlyphs" stroke="#000" stroke-width="0.45" >pH 5.5</text>
<text x="208.00" y="726.60" font-size="17.2" text-anchor="middle" font-weight="bold" textLength="53.00" lengthAdjust="spacingAndGlyphs" stroke="#000" stroke-width="0.45" >pH 6.5</text>
<text x="23.00" y="618.00" font-size="13.5" text-anchor="middle" textLength="87.40" lengthAdjust="spacingAndGlyphs" stroke="#000" stroke-width="0.45" transform="rotate(-90 23.00 618.00)" >Percent of WT</text>
<text x="39.50" y="618.60" font-size="13.5" text-anchor="middle" textLength="104.80" lengthAdjust="spacingAndGlyphs" stroke="#000" stroke-width="0.45" transform="rotate(-90 39.50 618.60)" >maximum activity</text>
</g>
</g>
</svg>
</body></html>
